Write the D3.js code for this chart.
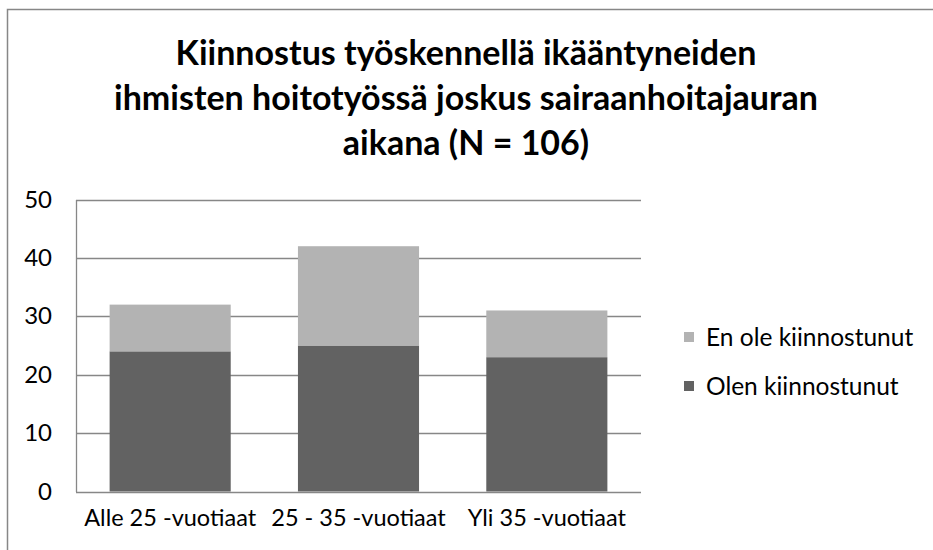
<!DOCTYPE html>
<html><head><meta charset="utf-8">
<script src="https://cdn.jsdelivr.net/npm/d3@7"></script>
<style>body{margin:0;background:#fff}svg{display:block}text{font-family:Lato,"Open Sans",sans-serif;fill:#000}</style>
</head><body>
<svg id="c" width="933" height="550"></svg>
<script>
const categories = ["Alle 25 -vuotiaat", "25 - 35 -vuotiaat", "Yli 35 -vuotiaat"];
const seriesNames = ["Olen kiinnostunut", "En ole kiinnostunut"];
const olenValues = [24, 25, 23];
const enOleValues = [8, 17, 8];
const yTicks = [0, 10, 20, 30, 40, 50];
const titleLines = ["Kiinnostus työskennellä ikääntyneiden", "ihmisten hoitotyössä joskus sairaanhoitajauran", "aikana (N = 106)"];
const colors = {"Olen kiinnostunut": "#626262", "En ole kiinnostunut": "#b3b3b3"};

const svg = d3.select("#c");
// outer chart border
svg.append("rect").attr("x", 7.5).attr("y", 9.5).attr("width", 960).attr("height", 600)
  .attr("fill", "none").attr("stroke", "#878787").attr("stroke-width", 1.5);

// title
svg.append("g").selectAll("text").data(titleLines).join("text")
  .attr("x", 466).attr("y", (d, i) => 65 + i * 45)
  .attr("text-anchor", "middle").attr("font-weight", "bold").attr("font-size", 34)
  .text(d => d);

const m = {left: 76, right: 641, top: 199.5, bottom: 491.5};
const x = d3.scaleBand().domain(categories).range([m.left, m.right]).paddingInner(0.357).paddingOuter(0.1785);
const y = d3.scaleLinear().domain([0, 50]).range([m.bottom, m.top]);

const data = categories.map((c, i) => ({cat: c, "Olen kiinnostunut": olenValues[i], "En ole kiinnostunut": enOleValues[i]}));
const stack = d3.stack().keys(seriesNames)(data);

// gridlines
svg.append("g").selectAll("line").data(yTicks).join("line")
  .attr("x1", m.left).attr("x2", m.right).attr("y1", d => Math.round(y(d)) + 0.5).attr("y2", d => Math.round(y(d)) + 0.5)
  .attr("stroke", "#878787").attr("stroke-width", 1.3);

// bars
svg.append("g").selectAll("g").data(stack).join("g").attr("fill", d => colors[d.key])
  .selectAll("rect").data(d => d).join("rect")
  .attr("x", d => x(d.data.cat)).attr("width", x.bandwidth())
  .attr("y", d => y(d[1])).attr("height", d => y(d[0]) - y(d[1]));

// y axis
const yAxis = d3.axisLeft(y).tickValues(yTicks).tickSize(0).tickPadding(24);
const ga = svg.append("g").attr("transform", `translate(${m.left},0)`).call(yAxis);
ga.select(".domain").attr("stroke", "#878787").attr("stroke-width", 1.3);
ga.selectAll("text").attr("font-size", 24).attr("font-family", "Lato").attr("fill", "#000");

// x axis
const xAxis = d3.axisBottom(x).tickSize(0).tickPadding(18);
const gx = svg.append("g").attr("transform", `translate(0,${m.bottom})`).call(xAxis);
gx.select(".domain").remove();
gx.selectAll("text").attr("font-size", 23.5).attr("font-family", "Lato").attr("fill", "#000");

// legend
const legendItems = ["En ole kiinnostunut", "Olen kiinnostunut"];
const lg = svg.append("g").selectAll("g").data(legendItems).join("g")
  .attr("transform", (d, i) => `translate(684,${332 + i * 49})`);
lg.append("rect").attr("width", 10).attr("height", 10).attr("fill", d => colors[d]);
lg.append("text").attr("x", 22).attr("y", 5).attr("dy", "0.35em").attr("font-size", 24.5).text(d => d);
</script>
</body></html>
